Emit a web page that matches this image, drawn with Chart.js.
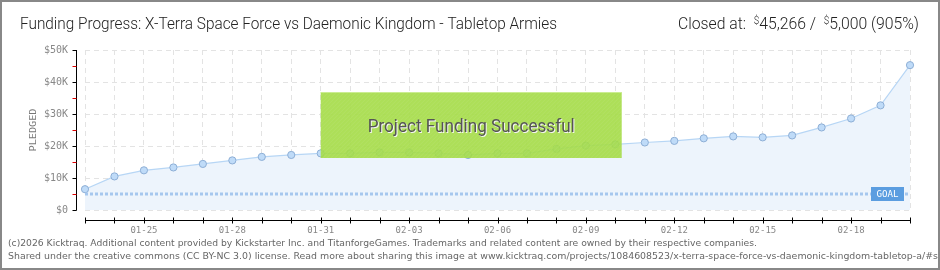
<!DOCTYPE html>
<html lang="en">
<head>
<meta charset="UTF-8">
<title>Funding Progress</title>
<script src="https://cdn.jsdelivr.net/npm/chart.js"></script>
<style>
  html, body { margin: 0; padding: 0; background: #fff; }
  canvas { display: block; }
</style>
</head>
<body>
<canvas id="grafico" width="940" height="270"></canvas>
<script>
// data
const dates = ['01-23', '01-24', '01-25', '01-26', '01-27', '01-28', '01-29', '01-30', '01-31',
  '02-01', '02-02', '02-03', '02-04', '02-05', '02-06', '02-07', '02-08', '02-09', '02-10',
  '02-11', '02-12', '02-13', '02-14', '02-15', '02-16', '02-17', '02-18', '02-19', '02-20'];
const pledged = [6500, 10500, 12400, 13300, 14400, 15500, 16600, 17200, 17700,
  17700, 18000, 18000, 17700, 17200, 17700, 17700, 19100, 20100, 20500,
  21100, 21600, 22400, 23000, 22700, 23300, 25800, 28600, 32700, 45266];
const goal = 5000;
const goalLine = dates.map(() => goal);
const yTicks = [0, 10000, 20000, 30000, 40000, 50000];

const titleText = 'Funding Progress: X-Terra Space Force vs Daemonic Kingdom - Tabletop Armies';
const footer1 = '(c)2026 Kicktraq. Additional content provided by Kickstarter Inc. and TitanforgeGames. Trademarks and related content are owned by their respective companies.';
const footer2 = 'Shared under the creative commons (CC BY-NC 3.0) license. Read more about sharing this image at www.kicktraq.com/projects/1084608523/x-terra-space-force-vs-daemonic-kingdom-tabletop-a/#sharing';

// draws text squeezed/stretched to a given width
function fitText(ctx, text, x, y, width, align) {
  const w = ctx.measureText(text).width;
  ctx.save();
  ctx.translate(x, y);
  ctx.scale(width / w, 1);
  ctx.textAlign = 'left';
  let ox = 0;
  if (align === 'center') ox = -w / 2;
  if (align === 'right') ox = -w;
  ctx.fillText(text, ox, 0);
  ctx.restore();
}

const decor = {
  id: 'decor',
  beforeDraw(chart) {
    const ctx = chart.ctx;
    ctx.save();
    ctx.fillStyle = '#fff';
    ctx.fillRect(0, 0, chart.width, chart.height);

    // title
    ctx.fillStyle = '#222';
    ctx.textBaseline = 'alphabetic';
    ctx.font = '300 16px Roboto';
    fitText(ctx, titleText, 20, 29, 537, 'left');

    // closed at ...
    const parts = [
      ['Closed at:  ', '300 16px Roboto', 0],
      ['$', '300 10px Roboto', -5],
      ['45,266 /  ', '300 16px Roboto', 0],
      ['$', '300 10px Roboto', -5],
      ['5,000 (905%)', '300 16px Roboto', 0]
    ];
    let total = 0;
    parts.forEach(p => { ctx.font = p[1]; total += ctx.measureText(p[0]).width; });
    const k = 241 / total;
    ctx.translate(678, 29);
    ctx.scale(k, 1);
    let cx = 0;
    parts.forEach(p => {
      ctx.font = p[1];
      ctx.fillText(p[0], cx, p[2]);
      cx += ctx.measureText(p[0]).width;
    });
    ctx.restore();
  },
  afterDatasetsDraw(chart) {
    const ctx = chart.ctx;
    const a = chart.chartArea;
    const x = chart.scales.x, y = chart.scales.y;
    ctx.save();

    // "Project Funding Successful" box
    const bx = x.getPixelForValue(8);
    const bw = 301, by = 92, bh = 66;
    ctx.fillStyle = 'rgba(164, 220, 70, 0.9)';
    ctx.fillRect(bx, by, bw, bh);
    ctx.beginPath();
    ctx.rect(bx, by, bw, bh);
    ctx.clip();
    ctx.strokeStyle = 'rgba(255,255,255,0.08)';
    ctx.lineWidth = 1;
    for (let i = -bh; i < bw; i += 4) {
      ctx.beginPath();
      ctx.moveTo(bx + i, by + bh);
      ctx.lineTo(bx + i + bh, by);
      ctx.stroke();
    }
    ctx.restore();
    ctx.save();
    ctx.strokeStyle = 'rgba(210,240,160,0.8)';
    ctx.beginPath();
    ctx.moveTo(bx, by + 0.5);
    ctx.lineTo(bx + bw, by + 0.5);
    ctx.stroke();
    ctx.font = '18px Roboto';
    ctx.textBaseline = 'alphabetic';
    ctx.fillStyle = '#f4f4f4';
    fitText(ctx, 'Project Funding Successful', bx + bw / 2 + 1, 133, 207, 'center');
    ctx.fillStyle = '#555';
    fitText(ctx, 'Project Funding Successful', bx + bw / 2, 132, 207, 'center');

    // GOAL tag
    const gy = y.getPixelForValue(goal);
    ctx.fillStyle = '#5b9de0';
    ctx.fillRect(a.right - 39, gy - 7, 33, 14);
    ctx.fillStyle = '#fff';
    ctx.font = '9px "DejaVu Sans Mono"';
    ctx.textBaseline = 'middle';
    fitText(ctx, 'GOAL', a.right - 22.5, gy + 0.5, 22, 'center');
    ctx.restore();
  },
  afterDraw(chart) {
    const ctx = chart.ctx;
    const a = chart.chartArea;
    const x = chart.scales.x, y = chart.scales.y;
    ctx.save();

    // y axis line and ticks
    const ax = a.left - 8.5;
    ctx.strokeStyle = '#000';
    ctx.lineWidth = 1;
    ctx.beginPath();
    ctx.moveTo(ax, y.getPixelForValue(50000));
    ctx.lineTo(ax, y.getPixelForValue(0) + 0.5);
    ctx.stroke();
    for (let v = 0; v <= 50000; v += 5000) {
      const py = Math.round(y.getPixelForValue(v)) + 0.5;
      ctx.strokeStyle = v % 10000 === 0 ? '#000' : '#d00';
      ctx.beginPath();
      ctx.moveTo(ax - 4, py);
      ctx.lineTo(ax, py);
      ctx.stroke();
    }

    // x axis line and ticks
    const ay = a.bottom + 10.5;
    ctx.strokeStyle = '#000';
    ctx.beginPath();
    ctx.moveTo(x.getPixelForValue(0), ay);
    ctx.lineTo(x.getPixelForValue(dates.length - 1) + 1, ay);
    ctx.stroke();
    dates.forEach((d, i) => {
      const px = Math.round(x.getPixelForValue(i)) + 0.5;
      ctx.beginPath();
      ctx.moveTo(px, ay - 3);
      ctx.lineTo(px, ay + 3);
      ctx.stroke();
    });

    // y title
    ctx.save();
    ctx.translate(34, 130);
    ctx.rotate(-Math.PI / 2);
    ctx.fillStyle = '#777';
    ctx.font = '9px "DejaVu Sans Mono"';
    ctx.textBaseline = 'middle';
    fitText(ctx, 'PLEDGED', 0, 0, 43, 'center');
    ctx.restore();

    // footer
    ctx.fillStyle = '#666';
    ctx.font = '9px "DejaVu Sans"';
    ctx.textBaseline = 'alphabetic';
    fitText(ctx, footer1, 8, 246, 749, 'left');
    fitText(ctx, footer2, 8, 259, 960, 'left');

    // frame
    ctx.strokeStyle = '#888';
    ctx.lineWidth = 2;
    ctx.strokeRect(1, 1, chart.width - 2, chart.height - 2);
    ctx.restore();
  }
};

const ctx = document.getElementById('grafico');

new Chart(ctx, {
  type: 'line',
  data: {
    labels: dates,
    datasets: [{
      label: 'Goal',
      data: goalLine,
      borderColor: '#a6c7ee',
      borderWidth: 3,
      borderDash: [3, 2],
      pointRadius: 0,
      fill: false,
      order: 0,
      clip: false
    }, {
      label: 'Pledged',
      data: pledged,
      borderColor: '#b7d6f5',
      borderWidth: 1.2,
      backgroundColor: '#edf4fc',
      fill: 'origin',
      tension: 0,
      pointRadius: 3.6,
      pointBackgroundColor: '#bfdbf8',
      pointBorderColor: '#8eafd6',
      pointBorderWidth: 1,
      order: 1,
      clip: false
    }]
  },
  plugins: [decor],
  options: {
    responsive: false,
    animation: false,
    devicePixelRatio: 1,
    layout: { padding: { left: 0, top: 50, right: 30, bottom: 0 } },
    plugins: {
      legend: { display: false },
      tooltip: { enabled: false }
    },
    scales: {
      x: {
        afterFit(scale) { scale.height = 60; },
        grid: { color: '#e3e3e3', drawTicks: false },
        border: { display: false, dash: [5, 4] },
        ticks: {
          autoSkip: false,
          maxRotation: 0,
          padding: 15,
          color: '#888',
          font: { family: 'DejaVu Sans Mono', size: 9 },
          callback: (v, i) => (i % 3 === 2 ? dates[i] : '')
        }
      },
      y: {
        min: 0,
        max: 50000,
        afterFit(scale) { scale.width = 85; },
        afterBuildTicks(scale) { scale.ticks = yTicks.map(v => ({ value: v })); },
        grid: { color: '#e3e3e3', drawTicks: false },
        border: { display: false, dash: [5, 4] },
        ticks: {
          padding: 17,
          color: '#888',
          font: { family: 'DejaVu Sans Mono', size: 10 },
          callback: v => (v === 0 ? '$0' : '$' + v / 1000 + 'K')
        }
      }
    }
  }
});
</script>
</body>
</html>
